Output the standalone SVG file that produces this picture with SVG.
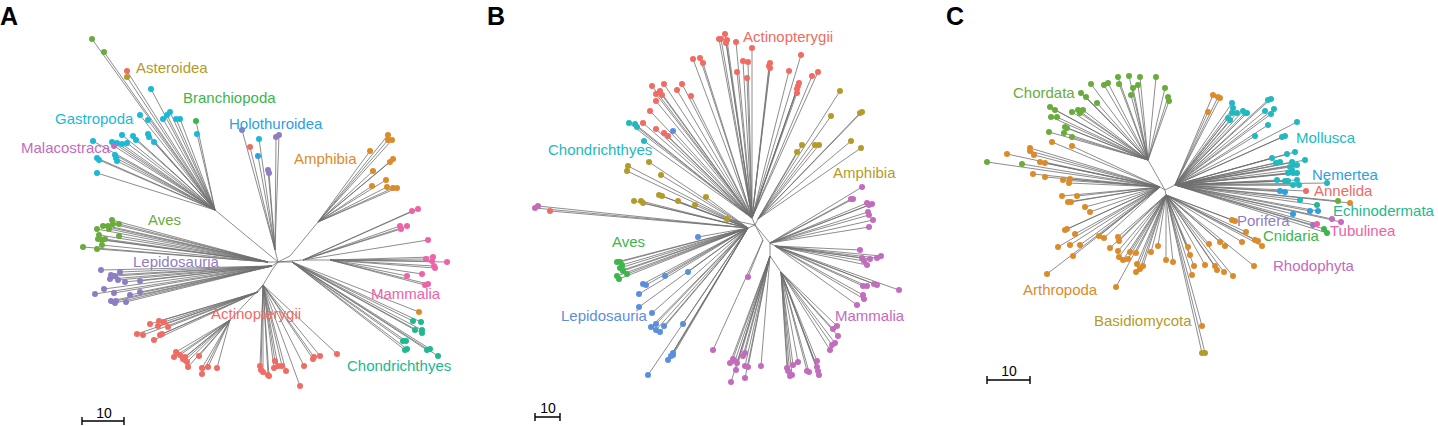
<svg xmlns="http://www.w3.org/2000/svg" width="1438" height="426" viewBox="0 0 1438 426">
<style>
.e{fill:none;stroke:#707070;stroke-width:0.8}
.d{fill:none;stroke-width:6;stroke-linecap:round}
.sb{fill:none;stroke:#000;stroke-width:1.4}
text{font-family:"Liberation Sans",Arial,sans-serif;font-size:15px}
.pl{font-weight:bold;font-size:25px;fill:#000}
.sn{font-size:14px;fill:#000;text-anchor:middle}
.g1{stroke:#6aac3c}.r{stroke:#ef6b63}.o{stroke:#b39b2a}.c{stroke:#1ab9d6}.m{stroke:#c36bbd}.g2{stroke:#3cb54b}.b{stroke:#2e9fdf}.p{stroke:#8f7dc4}.or{stroke:#dc8b2a}.pk{stroke:#ee62a8}.t{stroke:#20b891}.tc{stroke:#22b8c0}.bl{stroke:#5b8fdb}.eg{stroke:#26b88a}
.fg1{fill:#6aac3c}.fr{fill:#ef6b63}.fo{fill:#b39b2a}.fc{fill:#1ab9d6}.fm{fill:#c36bbd}.fg2{fill:#3cb54b}.fb{fill:#2e9fdf}.fp{fill:#8f7dc4}.for{fill:#dc8b2a}.fpk{fill:#ee62a8}.ft{fill:#20b891}.ftc{fill:#22b8c0}.fbl{fill:#5b8fdb}.feg{fill:#26b88a}
</style>

<!-- ================= PANEL A ================= -->
<g id="panelA">
<text class="pl" x="0" y="25">A</text>
<g id="A-connectors">
<path class="e" d="M278 262L215 210M278 262L275 250M278 262L290 256L318 222M278 262L303 260L330 260M278 262L292 262M278 262L268 262M278 262L272 266M278 262L272 270L263 285M263 285L258 292M263 285L230 320
M215 210L92 39M215 210L104 52M215 210L127 71M215 210L127 77M215 210L151 89M215 210L140 115M215 210L148 120M215 210L163 119M215 210L167 115M215 210L170 112M215 210L176 119M215 210L180 119M215 210L196 121M215 210L197 134M215 210L93 141M215 210L112 142M215 210L117 143M215 210L122 144M215 210L127 143M215 210L122 135M215 210L133 136M215 210L136 140M215 210L148 134M215 210L149 137M215 210L154 142M215 210L115 155M215 210L116 158M215 210L117 161M215 210L97 158M215 210L99 160M215 210L97 173M215 210L114 146
M275 250L242 130M275 250L250 147M275 250L259 139M275 250L258 156M275 250L268 170M275 250L269 173M275 250L276 137M275 250L279 135
M318 222L388 135M318 222L388 140M318 222L392 140M318 222L370 151M318 222L390 162M318 222L393 159M318 222L373 171M318 222L386 180M318 222L372 186M318 222L387 187M318 222L393 188M318 222L397 188
M303 260L412 211M303 260L418 209M303 260L400 226M303 260L401 229M303 260L407 226M303 260L428 240
M330 260L426 259M330 260L433 257M330 260L432 261M330 260L434 266M330 260L435 268M330 260L447 262M330 260L422 274M330 260L407 276M330 260L425 285M330 260L428 284
M292 262L419 312M292 262L413 321M292 262L421 322M292 262L415 330M292 262L422 330M292 262L422 333M292 262L403 341M292 262L406 341M292 262L405 350M292 262L407 349M292 262L427 350M292 262L430 349M292 262L438 356
M263 285L260 366M263 285L261 370M263 285L263 372M263 285L269 376M263 285L268 375M263 285L275 361M263 285L274 368M263 285L278 366M263 285L282 366M263 285L286 371M263 285L304 366M263 285L313 359M263 285L314 357M263 285L320 356M263 285L337 354M263 285L300 386
M258 292L150 324M258 292L159 321M258 292L164 322M258 292L158 326M258 292L168 327M258 292L137 334M258 292L143 335M258 292L160 335M258 292L162 334M258 292L154 340
M230 320L176 352M230 320L174 357M230 320L180 355M230 320L183 359M230 320L185 357M230 320L187 362M230 320L188 367M230 320L185 360M230 320L199 356M230 320L202 368M230 320L208 367M230 320L217 368M230 320L202 374
M268 262L112 220M268 262L103 226M268 262L108 226M268 262L113 224M268 262L119 224M268 262L97 229M268 262L109 229M268 262L99 235M268 262L98 239M268 262L102 240M268 262L105 239M268 262L119 236M268 262L102 245M268 262L83 247M268 262L97 249
M272 266L101 270M272 266L120 272M272 266L111 275M272 266L115 276M272 266L110 279M272 266L118 280M272 266L125 282M272 266L140 281M272 266L95 294M272 266L104 289M272 266L114 293M272 266L130 295M272 266L140 292M272 266L111 301M272 266L115 303M272 266L116 301M272 266L126 302"/>
</g>
<g id="A-outliers"><path class="d g1" d="M92 39h.01M104 52h.01"/></g>
<g id="A-Asteroidea">
<path class="d r" d="M127 71h.01"/><path class="d o" d="M127 77h.01"/>
<text class="fo" x="136" y="73">Asteroidea</text>
</g>
<g id="A-Gastropoda">
<path class="d c" d="M151 89h.01M140 115h.01M148 120h.01M163 119h.01M167 115h.01M170 112h.01M176 119h.01M180 119h.01M197 134h.01M93 141h.01M112 142h.01M117 143h.01M122 144h.01M127 143h.01M122 135h.01M133 136h.01M136 140h.01M148 134h.01M149 137h.01M154 142h.01M115 155h.01M116 158h.01M117 161h.01M97 158h.01M99 160h.01M97 173h.01"/>
<text class="fc" x="55" y="124">Gastropoda</text>
</g>
<g id="A-Branchiopoda">
<path class="d g2" d="M196 121h.01"/>
<text class="fg2" x="183" y="103">Branchiopoda</text>
</g>
<g id="A-Malacostraca">
<path class="d m" d="M114 146h.01"/>
<text class="fm" x="21" y="153">Malacostraca</text>
</g>
<g id="A-Holothuroidea">
<path class="d p" d="M242 130h.01M268 170h.01M269 173h.01M276 137h.01M279 135h.01"/>
<path class="d r" d="M250 147h.01"/><path class="d c" d="M259 139h.01"/><path class="d b" d="M258 156h.01"/>
<text class="fb" x="229" y="129">Holothuroidea</text>
</g>
<g id="A-Amphibia">
<path class="d or" d="M388 135h.01M388 140h.01M392 140h.01M370 151h.01M390 162h.01M393 159h.01M373 171h.01M386 180h.01M372 186h.01M387 187h.01M393 188h.01M397 188h.01"/>
<text class="for" x="294" y="164">Amphibia</text>
</g>
<g id="A-Mammalia">
<path class="d pk" d="M412 211h.01M418 209h.01M400 226h.01M401 229h.01M407 226h.01M428 240h.01M426 259h.01M433 257h.01M432 261h.01M434 266h.01M435 268h.01M447 262h.01M422 274h.01M407 276h.01M425 285h.01M428 284h.01"/>
<text class="fpk" x="371" y="299">Mammalia</text>
</g>
<g id="A-Chondrichthyes">
<path class="d or" d="M419 312h.01"/>
<path class="d t" d="M413 321h.01M421 322h.01M415 330h.01M422 330h.01M422 333h.01M403 341h.01M406 341h.01M405 350h.01M407 349h.01M427 350h.01M430 349h.01M438 356h.01"/>
<text class="ft" x="347" y="371">Chondrichthyes</text>
</g>
<g id="A-Actinopterygii">
<path class="d r" d="M260 366h.01M261 370h.01M263 372h.01M269 376h.01M268 375h.01M275 361h.01M274 368h.01M278 366h.01M282 366h.01M286 371h.01M304 366h.01M313 359h.01M314 357h.01M320 356h.01M337 354h.01M300 386h.01M150 324h.01M159 321h.01M164 322h.01M158 326h.01M168 327h.01M137 334h.01M143 335h.01M160 335h.01M162 334h.01M154 340h.01M176 352h.01M174 357h.01M180 355h.01M183 359h.01M185 357h.01M187 362h.01M188 367h.01M185 360h.01M199 356h.01M202 368h.01M208 367h.01M217 368h.01M202 374h.01"/>
<text class="fr" x="211" y="319">Actinopterygii</text>
</g>
<g id="A-Aves">
<path class="d g1" d="M112 220h.01M103 226h.01M108 226h.01M113 224h.01M119 224h.01M97 229h.01M109 229h.01M99 235h.01M98 239h.01M102 240h.01M105 239h.01M119 236h.01M102 245h.01M83 247h.01M97 249h.01"/>
<text class="fg1" x="148" y="225">Aves</text>
</g>
<g id="A-Lepidosauria">
<path class="d p" d="M101 270h.01M120 272h.01M111 275h.01M115 276h.01M110 279h.01M118 280h.01M125 282h.01M140 281h.01M95 294h.01M104 289h.01M114 293h.01M130 295h.01M140 292h.01M111 301h.01M115 303h.01M116 301h.01M126 302h.01"/>
<text class="fp" x="133" y="267">Lepidosauria</text>
</g>
<g id="A-scale">
<path class="sb" d="M82 421H124M82 417V425M124 417V425"/>
<text class="sn" x="104" y="418">10</text>
</g>
</g>

<!-- ================= PANEL B ================= -->
<g id="panelB">
<text class="pl" x="487" y="25">B</text>
<g id="B-connectors">
<path class="e" d="M755 225L752 218M755 225L758 219M755 225L748 228M755 225L770 243L775 246M770 243L770 256L781 272M755 225L763 240M755 225L727 219
M752 218L725 34M752 218L721 39M752 218L727 40M752 218L726 43M752 218L736 42M752 218L752 48M752 218L743 61M752 218L748 62M752 218L737 72M752 218L747 78M752 218L770 63M752 218L769 66M752 218L770 68M752 218L801 55M752 218L789 71M752 218L812 76M752 218L818 72M752 218L799 83M752 218L798 86M752 218L797 89M752 218L797 93M752 218L719 39M752 218L693 59M752 218L700 58M752 218L703 63M752 218L652 86M752 218L664 84M752 218L682 84M752 218L660 91M752 218L656 94M752 218L662 95M752 218L677 90M752 218L691 96M752 218L656 101M752 218L650 111M752 218L643 123M752 218L656 129M752 218L664 133M752 218L668 136M752 218L629 123M752 218L635 124M752 218L637 127M752 218L644 141M752 218L673 131
M758 219L840 91M758 219L831 116M758 219L860 113M758 219L862 112M758 219L802 145M758 219L797 152M758 219L815 145M758 219L819 145M758 219L851 141M758 219L861 148
M748 228L535 208M748 228L538 206M748 228L550 211M748 228L628 166M748 228L627 171M748 228L649 162M748 228L661 175M748 228L634 201M748 228L641 201M748 228L643 203M748 228L659 195M748 228L662 196M748 228L678 201M748 228L695 205M748 228L706 197
M748 228L617 262M748 228L620 262M748 228L622 265M748 228L620 268M748 228L623 271M748 228L627 274M748 228L617 276M748 228L619 279M748 228L623 270
M748 228L698 237M748 228L688 272M748 228L665 276M748 228L643 284M748 228L646 285M748 228L639 294M748 228L639 307M748 228L652 313M748 228L656 324M748 228L651 327M748 228L656 330M748 228L660 332M748 228L664 326M748 228L683 324M748 228L673 353M748 228L671 356M748 228L668 360M748 228L673 355M748 228L648 375
M770 243L862 187M770 243L851 199M770 243L853 199M770 243L867 203M770 243L872 204M770 243L869 205M770 243L868 212M770 243L869 215M770 243L873 220M770 243L869 227
M775 246L860 250M775 246L862 258M775 246L864 261M775 246L867 265M775 246L870 259M775 246L877 258M775 246L881 256M775 246L863 286M775 246L867 286M775 246L874 284M775 246L877 285M775 246L899 290M775 246L863 295M775 246L864 299M775 246L857 305
M763 240L748 277M763 240L713 350
M770 256L761 366M770 256L748 367M770 256L745 366M770 256L745 378M770 256L736 370M770 256L737 363M770 256L733 359M770 256L730 363M770 256L745 353M770 256L743 356M770 256L731 382M770 256L735 361
M781 272L833 329M781 272L837 326M781 272L838 336M781 272L835 343M781 272L832 345M781 272L830 350M781 272L817 361M781 272L817 367M781 272L818 371M781 272L819 375M781 272L807 371M781 272L809 372M781 272L798 362M781 272L793 365M781 272L787 368M781 272L788 371M781 272L792 375M781 272L790 376"/>
</g>
<g id="B-outliers">
<path class="d m" d="M535 208h.01M538 206h.01"/><path class="d r" d="M550 211h.01"/>
</g>
<g id="B-Actinopterygii">
<path class="d r" d="M725 34h.01M721 39h.01M727 40h.01M726 43h.01M736 42h.01M752 48h.01M743 61h.01M748 62h.01M737 72h.01M747 78h.01M770 63h.01M769 66h.01M770 68h.01M801 55h.01M789 71h.01M812 76h.01M818 72h.01M799 83h.01M798 86h.01M797 89h.01M797 93h.01M719 39h.01M693 59h.01M700 58h.01M703 63h.01M652 86h.01M664 84h.01M682 84h.01M660 91h.01M656 94h.01M662 95h.01M677 90h.01M691 96h.01M656 101h.01M650 111h.01M643 123h.01M656 129h.01M664 133h.01M668 136h.01"/>
<text class="fr" x="743" y="42">Actinopterygii</text>
</g>
<g id="B-Chondrichthyes">
<path class="d tc" d="M629 123h.01M635 124h.01M637 127h.01M644 141h.01"/><path class="d bl" d="M673 131h.01"/>
<text class="ftc" x="548" y="155">Chondrichthyes</text>
</g>
<g id="B-Amphibia">
<path class="d o" d="M840 91h.01M831 116h.01M860 113h.01M862 112h.01M802 145h.01M797 152h.01M815 145h.01M819 145h.01M851 141h.01M861 148h.01M628 166h.01M627 171h.01M649 162h.01M661 175h.01M634 201h.01M641 201h.01M643 203h.01M659 195h.01M662 196h.01M678 201h.01M695 205h.01M706 197h.01M727 219h.01"/>
<text class="fo" x="833" y="178">Amphibia</text>
</g>
<g id="B-Mammalia">
<path class="d m" d="M862 187h.01M851 199h.01M853 199h.01M867 203h.01M872 204h.01M869 205h.01M868 212h.01M869 215h.01M873 220h.01M869 227h.01M860 250h.01M862 258h.01M864 261h.01M867 265h.01M870 259h.01M877 258h.01M881 256h.01M863 286h.01M867 286h.01M874 284h.01M877 285h.01M899 290h.01M863 295h.01M864 299h.01M857 305h.01M748 277h.01M713 350h.01M761 366h.01M748 367h.01M745 366h.01M745 378h.01M736 370h.01M737 363h.01M733 359h.01M730 363h.01M745 353h.01M743 356h.01M731 382h.01M735 361h.01M833 329h.01M837 326h.01M838 336h.01M835 343h.01M832 345h.01M830 350h.01M817 361h.01M817 367h.01M818 371h.01M819 375h.01M807 371h.01M809 372h.01M798 362h.01M793 365h.01M787 368h.01M788 371h.01M792 375h.01M790 376h.01"/>
<text class="fm" x="835" y="321">Mammalia</text>
</g>
<g id="B-Aves">
<path class="d g2" d="M617 262h.01M620 262h.01M622 265h.01M620 268h.01M623 271h.01M627 274h.01M617 276h.01M619 279h.01M623 270h.01"/>
<text class="fg2" x="612" y="247">Aves</text>
</g>
<g id="B-Lepidosauria">
<path class="d bl" d="M698 237h.01M688 272h.01M665 276h.01M643 284h.01M646 285h.01M639 294h.01M639 307h.01M652 313h.01M656 324h.01M651 327h.01M656 330h.01M660 332h.01M664 326h.01M683 324h.01M673 353h.01M671 356h.01M668 360h.01M673 355h.01M648 375h.01"/>
<text class="fbl" x="561" y="321">Lepidosauria</text>
</g>
<g id="B-scale">
<path class="sb" d="M535 417H560M535 413V421M560 413V421"/>
<text class="sn" x="548" y="413">10</text>
</g>
</g>

<!-- ================= PANEL C ================= -->
<g id="panelC">
<text class="pl" x="946" y="25">C</text>
<g id="C-connectors">
<path class="e" d="M1165 190L1148 160M1165 190L1160 187M1165 190L1175 185M1165 190L1166 195
M1148 160L1118 77M1148 160L1129 76M1148 160L1140 77M1148 160L1156 77M1148 160L1165 88M1148 160L1168 97M1148 160L1169 101M1148 160L1091 84M1148 160L1104 85M1148 160L1108 83M1148 160L1119 84M1148 160L1133 88M1148 160L1138 85M1148 160L1131 95M1148 160L1081 93M1148 160L1086 97M1148 160L1097 103M1148 160L1050 107M1148 160L1055 110M1148 160L1057 117M1148 160L1051 117M1148 160L1072 112M1148 160L1078 110M1148 160L1083 110M1148 160L1080 113M1148 160L1065 127M1148 160L1067 128M1148 160L1049 132M1148 160L1064 133M1148 160L1072 137
M1160 187L987 162M1160 187L1022 164M1160 187L1052 142M1160 187L1072 146M1160 187L1030 148M1160 187L1030 151M1160 187L1007 154M1160 187L1034 155M1160 187L1040 162M1160 187L1045 163M1160 187L1033 174M1160 187L1045 177M1160 187L1063 180M1160 187L1070 179M1160 187L1069 183M1160 187L1062 196M1160 187L1077 196M1160 187L1068 202M1160 187L1071 202M1160 187L1085 207M1160 187L1090 212M1160 187L1067 229M1160 187L1065 230M1160 187L1075 234M1160 187L1058 247M1160 187L1070 245M1160 187L1080 245M1160 187L1099 236M1160 187L1104 238M1160 187L1047 274M1160 187L1073 256
M1166 195L1118 237M1166 195L1119 241M1166 195L1110 248M1166 195L1118 251M1166 195L1119 257M1166 195L1123 260M1166 195L1128 259M1166 195L1130 252M1166 195L1136 253M1166 195L1137 264M1166 195L1143 266M1166 195L1136 272M1166 195L1140 269M1166 195L1151 252M1166 195L1158 246M1166 195L1166 260M1166 195L1173 262M1166 195L1188 247M1166 195L1190 255M1166 195L1194 266M1166 195L1192 275M1166 195L1116 287M1166 195L1232 220M1166 195L1235 221M1166 195L1246 232M1166 195L1242 242M1166 195L1255 240M1166 195L1258 241M1166 195L1262 246M1166 195L1209 244M1166 195L1220 242M1166 195L1225 246M1166 195L1205 265M1166 195L1215 266M1166 195L1217 270M1166 195L1224 272M1166 195L1233 276M1166 195L1254 266M1166 195L1202 326M1166 195L1202 353M1166 195L1205 353
M1175 185L1213 95M1175 185L1218 97M1175 185L1220 98M1175 185L1208 112M1175 185L1232 103M1175 185L1233 108M1175 185L1232 113M1175 185L1237 113M1175 185L1228 118M1175 185L1230 120M1175 185L1243 111M1175 185L1245 113M1175 185L1247 113M1175 185L1268 100M1175 185L1271 99M1175 185L1265 111M1175 185L1271 114M1175 185L1274 109M1175 185L1268 125M1175 185L1255 136M1175 185L1282 137M1175 185L1285 136M1175 185L1297 122M1175 185L1272 158M1175 185L1276 163M1175 185L1280 162M1175 185L1287 154M1175 185L1295 152M1175 185L1305 160M1175 185L1292 162M1175 185L1293 165M1175 185L1297 165M1175 185L1290 167M1175 185L1288 173M1175 185L1293 173M1175 185L1297 173M1175 185L1292 170M1175 185L1277 180M1175 185L1285 181M1175 185L1288 181M1175 185L1297 180M1175 185L1299 185M1175 185L1293 185M1175 185L1300 200M1175 185L1317 205M1175 185L1327 183M1175 185L1280 191M1175 185L1285 192M1175 185L1293 214M1175 185L1310 211M1175 185L1318 211M1175 185L1306 191M1175 185L1338 201M1175 185L1350 203M1175 185L1332 219M1175 185L1341 222M1175 185L1313 225M1175 185L1317 224M1175 185L1324 229M1175 185L1327 233"/>
</g>
<g id="C-Chordata">
<path class="d g1" d="M1118 77h.01M1129 76h.01M1140 77h.01M1156 77h.01M1165 88h.01M1168 97h.01M1169 101h.01M1091 84h.01M1104 85h.01M1108 83h.01M1119 84h.01M1133 88h.01M1138 85h.01M1131 95h.01M1081 93h.01M1086 97h.01M1097 103h.01M1050 107h.01M1055 110h.01M1057 117h.01M1051 117h.01M1072 112h.01M1078 110h.01M1083 110h.01M1080 113h.01M1065 127h.01M1067 128h.01M1049 132h.01M1064 133h.01M1072 137h.01M987 162h.01M1022 164h.01M1338 201h.01"/>
<text class="fg1" x="1013" y="98">Chordata</text>
</g>
<g id="C-Arthropoda">
<path class="d or" d="M1052 142h.01M1072 146h.01M1030 148h.01M1030 151h.01M1007 154h.01M1034 155h.01M1040 162h.01M1045 163h.01M1033 174h.01M1045 177h.01M1063 180h.01M1070 179h.01M1069 183h.01M1062 196h.01M1077 196h.01M1068 202h.01M1071 202h.01M1085 207h.01M1090 212h.01M1067 229h.01M1065 230h.01M1075 234h.01M1058 247h.01M1070 245h.01M1080 245h.01M1099 236h.01M1104 238h.01M1047 274h.01M1073 256h.01M1118 237h.01M1119 241h.01M1110 248h.01M1118 251h.01M1119 257h.01M1123 260h.01M1128 259h.01M1130 252h.01M1136 253h.01M1137 264h.01M1143 266h.01M1136 272h.01M1140 269h.01M1151 252h.01M1158 246h.01M1166 260h.01M1173 262h.01M1188 247h.01M1190 255h.01M1194 266h.01M1192 275h.01M1116 287h.01M1232 220h.01M1235 221h.01M1246 232h.01M1242 242h.01M1255 240h.01M1258 241h.01M1262 246h.01M1209 244h.01M1220 242h.01M1225 246h.01M1205 265h.01M1215 266h.01M1217 270h.01M1224 272h.01M1233 276h.01M1254 266h.01M1202 326h.01M1213 95h.01M1218 97h.01M1220 98h.01M1208 112h.01M1350 203h.01"/>
<text class="for" x="1023" y="295">Arthropoda</text>
</g>
<g id="C-Basidiomycota">
<path class="d o" d="M1202 353h.01M1205 353h.01"/>
<text class="fo" x="1094" y="326">Basidiomycota</text>
</g>
<g id="C-Mollusca">
<path class="d tc" d="M1232 103h.01M1233 108h.01M1232 113h.01M1237 113h.01M1228 118h.01M1230 120h.01M1243 111h.01M1245 113h.01M1247 113h.01M1268 100h.01M1271 99h.01M1265 111h.01M1271 114h.01M1274 109h.01M1268 125h.01M1255 136h.01M1282 137h.01M1285 136h.01M1297 122h.01M1272 158h.01M1276 163h.01M1280 162h.01M1287 154h.01M1295 152h.01M1305 160h.01M1292 162h.01M1293 165h.01M1297 165h.01M1290 167h.01M1288 173h.01M1293 173h.01M1297 173h.01M1292 170h.01M1277 180h.01M1285 181h.01M1288 181h.01M1297 180h.01M1299 185h.01M1293 185h.01M1300 200h.01M1327 183h.01"/>
<text class="ftc" x="1296" y="143">Mollusca</text>
</g>
<g id="C-Nemertea">
<path class="d b" d="M1280 191h.01M1285 192h.01M1293 214h.01M1310 211h.01M1318 211h.01"/>
<text class="fb" x="1312" y="180">Nemertea</text>
</g>
<g id="C-Annelida">
<path class="d r" d="M1306 191h.01"/>
<text class="fr" x="1314" y="196">Annelida</text>
</g>
<g id="C-Echinodermata">
<path class="d eg" d="M1317 205h.01"/>
<text class="feg" x="1333" y="216">Echinodermata</text>
</g>
<g id="C-Porifera">
<path class="d p" d="M1313 225h.01"/>
<text class="fp" x="1237" y="226">Porifera</text>
</g>
<g id="C-Tubulinea">
<path class="d pk" d="M1317 224h.01"/>
<text class="fpk" x="1330" y="236">Tubulinea</text>
</g>
<g id="C-Cnidaria">
<path class="d g2" d="M1324 229h.01M1327 233h.01"/>
<text class="fg2" x="1263" y="241">Cnidaria</text>
</g>
<g id="C-Rhodophyta">
<path class="d m" d="M1332 219h.01M1341 222h.01"/>
<text class="fm" x="1273" y="271">Rhodophyta</text>
</g>
<g id="C-scale">
<path class="sb" d="M987 380H1030M987 376V384M1030 376V384"/>
<text class="sn" x="1009" y="376">10</text>
</g>
</g>
</svg>
